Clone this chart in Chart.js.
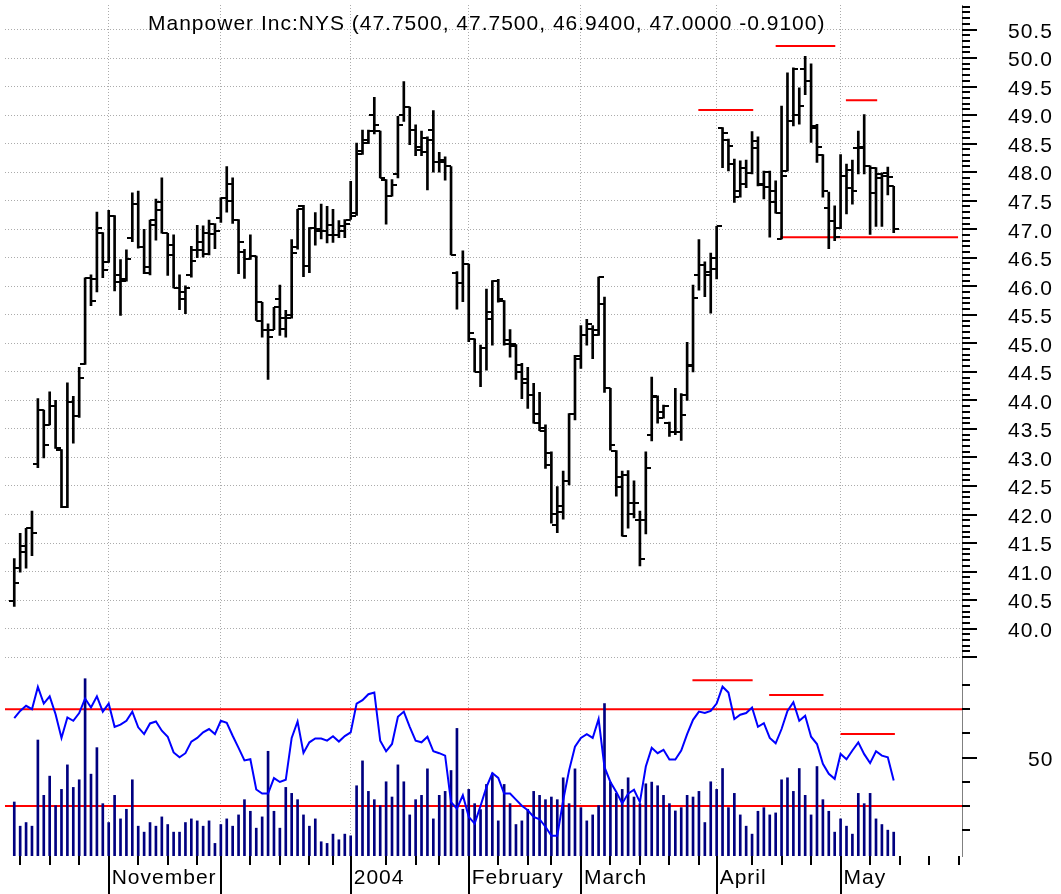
<!DOCTYPE html>
<html>
<head>
<meta charset="utf-8">
<title>Manpower Inc:NYS</title>
<script src="https://cdn.jsdelivr.net/npm/chart.js@4.4.1/dist/chart.umd.min.js"></script>
<style>
  html, body { margin: 0; padding: 0; background: #fff; }
</style>
</head>
<body>
<canvas id="chart" width="1061" height="894"></canvas>
<script>
// daily bars, 10 Oct 2003 .. 14 May 2004 (x = session index)
const name = "Manpower Inc:NYS";

const openP = [
  40.49, 41.07, 41.45, 41.76, 42.89, 43.83, 43.57, 43.90, 43.13, 42.13,
  43.98, 43.72, 44.63, 46.15, 46.13, 46.93, 46.43, 47.24, 46.20, 46.12,
  46.85, 47.44, 46.68, 46.23, 47.07, 47.47, 46.93, 46.54, 45.97, 45.90,
  46.19, 46.64, 46.78, 46.56, 46.91, 47.20, 47.54, 47.80, 47.17, 46.60,
  46.47, 46.53, 45.72, 45.24, 45.24, 45.77, 45.26, 45.50, 46.68, 47.40,
  46.36, 47.02, 47.00, 46.97, 47.07, 46.90, 47.06, 47.17, 47.29, 48.37,
  48.57, 49.00, 48.72, 47.87, 47.59, 47.96, 49.00, 49.14, 48.74, 48.38,
  48.60, 48.74, 48.17, 48.22, 48.10, 46.24, 46.05, 46.39, 45.08, 44.50,
  44.91, 45.43, 46.10, 45.75, 45.05, 44.98, 44.50, 44.38, 44.10, 43.77,
  43.51, 43.07, 41.81, 42.15, 42.58, 43.77, 44.72, 45.14, 45.26, 45.14,
  45.69, 44.21, 43.12, 42.65, 42.70, 42.20, 41.91, 41.91, 43.40, 44.06,
  43.80, 43.60, 43.44, 43.45, 44.10, 44.62, 46.20, 46.38, 46.20, 46.30,
  48.77, 48.56, 48.14, 47.67, 48.08, 47.98, 48.55, 47.78, 48.01, 47.67,
  46.83, 48.02, 48.90, 49.01, 49.80, 49.59, 48.81, 48.30, 47.38, 47.15,
  47.03, 47.94, 48.03, 48.43, 48.45, 48.11, 48.07, 47.97, 47.99, 47.75
];
const highP = [
  41.23, 41.67, 41.76, 42.06, 44.03, 43.83, 44.15, 44.00, 43.14, 44.31,
  44.07, 44.58, 46.15, 46.20, 47.30, 46.94, 47.33, 47.24, 46.47, 46.64,
  47.64, 47.67, 47.00, 47.16, 47.53, 47.90, 46.93, 46.90, 46.20, 46.01,
  46.70, 47.07, 47.06, 47.16, 47.10, 47.55, 48.10, 47.90, 47.17, 46.65,
  46.90, 46.53, 45.72, 45.34, 45.63, 46.02, 45.58, 46.82, 47.35, 47.42,
  47.03, 47.29, 47.44, 47.40, 47.35, 47.15, 47.17, 47.84, 48.51, 48.74,
  48.74, 49.31, 48.72, 47.87, 47.87, 48.98, 49.59, 49.14, 48.83, 48.72,
  48.62, 49.08, 48.35, 48.27, 48.10, 46.26, 46.62, 46.39, 45.08, 44.97,
  45.95, 46.10, 46.12, 45.75, 45.24, 44.98, 44.65, 44.58, 44.30, 44.14,
  43.57, 43.10, 42.49, 42.76, 43.77, 44.79, 45.31, 45.42, 45.31, 46.16,
  45.81, 44.21, 43.12, 42.76, 42.77, 42.59, 42.06, 43.10, 44.41, 44.08,
  43.92, 43.62, 44.21, 44.12, 45.02, 46.02, 46.82, 46.43, 46.58, 47.05,
  48.78, 48.58, 48.23, 48.20, 48.21, 48.71, 48.62, 48.02, 48.02, 47.85,
  49.16, 49.74, 49.83, 49.48, 50.03, 49.90, 48.84, 48.31, 47.65, 47.41,
  48.31, 48.14, 48.21, 48.72, 49.01, 48.11, 48.08, 47.99, 48.09, 47.75
];
const lowP = [
  40.39, 40.99, 41.06, 41.28, 42.82, 42.99, 43.57, 43.16, 42.12, 42.12,
  43.25, 43.70, 44.63, 45.66, 45.90, 46.15, 46.42, 45.92, 45.49, 46.09,
  46.78, 46.67, 46.22, 46.20, 46.81, 46.93, 46.19, 45.97, 45.59, 45.52,
  46.16, 46.50, 46.51, 46.55, 46.66, 47.12, 47.30, 47.10, 46.22, 46.14,
  46.47, 45.40, 45.11, 44.37, 45.24, 45.14, 45.11, 45.44, 46.65, 46.17,
  46.24, 46.72, 46.83, 46.76, 46.77, 46.85, 46.85, 47.17, 47.24, 48.31,
  48.50, 48.67, 47.90, 47.09, 47.58, 47.90, 48.89, 48.48, 48.29, 48.29,
  47.69, 48.00, 48.00, 47.86, 46.55, 45.60, 45.73, 45.03, 44.50, 44.24,
  44.53, 44.97, 45.72, 44.97, 44.76, 44.37, 44.03, 43.86, 43.60, 43.47,
  42.81, 41.85, 41.68, 41.92, 42.52, 43.66, 44.56, 44.97, 44.73, 45.14,
  44.14, 43.13, 42.32, 41.62, 41.76, 41.94, 41.10, 41.66, 43.29, 43.60,
  43.69, 43.37, 43.40, 43.30, 44.00, 44.50, 45.93, 45.82, 45.53, 46.13,
  48.08, 48.02, 47.47, 47.56, 47.73, 47.97, 47.76, 47.53, 46.86, 47.28,
  46.83, 48.02, 48.81, 48.84, 49.36, 48.52, 48.17, 47.56, 46.66, 46.80,
  47.01, 47.27, 47.44, 47.97, 47.97, 46.91, 47.05, 47.05, 47.60, 46.94
];
const closeP = [
  40.80, 41.35, 41.76, 41.67, 43.83, 43.22, 43.90, 43.17, 42.13, 43.98,
  43.72, 44.40, 46.15, 45.74, 47.03, 46.29, 47.24, 46.07, 46.10, 46.47,
  47.44, 46.68, 46.34, 47.16, 47.33, 46.93, 46.73, 45.97, 45.77, 45.97,
  46.44, 46.64, 46.93, 47.10, 46.97, 47.54, 47.50, 47.17, 46.77, 46.47,
  46.53, 45.40, 45.24, 45.11, 45.63, 45.44, 45.44, 46.59, 47.35, 46.36,
  47.02, 46.97, 46.97, 46.90, 46.90, 46.97, 47.10, 47.23, 48.31, 48.51,
  48.72, 48.83, 47.90, 47.59, 47.78, 48.83, 49.14, 48.74, 48.44, 48.35,
  48.57, 48.17, 48.17, 48.10, 46.55, 46.05, 46.39, 45.18, 44.50, 44.91,
  45.55, 46.10, 45.78, 44.98, 44.95, 44.62, 44.30, 44.10, 43.60, 43.47,
  42.86, 42.01, 42.05, 42.58, 43.77, 44.78, 45.14, 45.34, 45.24, 46.16,
  44.21, 43.22, 42.49, 41.62, 42.01, 42.20, 41.22, 42.81, 44.08, 43.70,
  43.91, 43.44, 43.45, 43.74, 44.61, 45.80, 46.38, 46.25, 46.50, 47.05,
  48.69, 48.46, 47.57, 47.80, 47.98, 48.42, 47.79, 47.74, 47.47, 47.28,
  47.94, 48.90, 49.80, 49.16, 49.59, 48.78, 48.44, 47.67, 47.15, 46.86,
  47.94, 47.73, 47.67, 48.42, 48.11, 47.63, 47.90, 47.94, 47.91, 47.00
];
// thousands of shares
const volume = [
  652, 360, 404, 360, 1400, 732, 964, 608, 804, 1100,
  828, 920, 2140, 988, 1308, 632, 404, 732, 448, 564,
  920, 360, 288, 404, 360, 472, 380, 288, 288, 404,
  448, 424, 360, 424, 152, 380, 448, 360, 496, 680,
  540, 336, 472, 1264, 540, 336, 828, 756, 680, 496,
  360, 448, 172, 152, 264, 196, 264, 244, 848, 1148,
  780, 680, 608, 896, 712, 1100, 896, 496, 680, 732,
  1052, 448, 732, 780, 1032, 1540, 564, 804, 632, 560,
  864, 1000, 424, 864, 632, 380, 424, 564, 780, 732,
  680, 712, 680, 944, 632, 1052, 584, 424, 496, 608,
  1840, 892, 756, 804, 944, 712, 632, 872, 892, 848,
  732, 632, 544, 584, 732, 712, 780, 404, 896, 804,
  1056, 584, 756, 496, 360, 264, 540, 584, 496, 520,
  920, 944, 780, 1056, 732, 496, 1080, 680, 540, 288,
  448, 360, 264, 756, 632, 756, 448, 380, 312, 288
];
const rsi = [
  66.3, 69.3, 71.4, 70.0, 79.2, 72.3, 75.3, 67.9, 58.1, 66.6,
  65.2, 68.4, 74.4, 70.7, 75.3, 69.0, 72.3, 62.7, 63.6, 65.2,
  69.0, 62.5, 59.7, 64.1, 64.9, 61.1, 58.6, 52.1, 50.1, 51.8,
  56.6, 58.1, 60.4, 61.8, 59.7, 65.2, 64.4, 59.0, 54.0, 48.8,
  49.3, 36.8, 35.1, 35.1, 41.5, 39.9, 40.8, 58.1, 64.9, 51.9,
  56.3, 57.9, 57.9, 57.0, 58.8, 56.6, 58.9, 60.4, 72.3, 73.7,
  76.2, 76.9, 57.0, 52.6, 55.6, 66.9, 69.0, 62.7, 57.0, 56.3,
  58.6, 52.6, 51.8, 50.8, 31.6, 28.9, 34.4, 25.5, 22.7, 30.0,
  37.8, 43.6, 41.6, 35.1, 35.1, 32.6, 30.1, 28.2, 25.5, 24.5,
  21.4, 17.7, 17.7, 32.3, 44.7, 54.5, 58.1, 59.7, 58.1, 65.9,
  46.0, 39.9, 35.8, 31.0, 35.1, 36.7, 31.6, 46.3, 54.0, 51.8,
  53.2, 49.2, 49.2, 52.9, 59.7, 65.6, 69.0, 68.4, 69.3, 72.3,
  79.3, 76.9, 65.9, 67.7, 68.4, 70.7, 62.7, 64.2, 58.1, 55.9,
  61.8, 69.3, 72.9, 65.2, 67.3, 58.6, 55.6, 47.4, 43.3, 41.2,
  51.5, 49.3, 52.9, 56.3, 51.4, 47.7, 52.6, 50.8, 50.1, 40.5
];

// first session of each week / month (session index), future sessions included
const weekTicks = [1, 6, 11, 21, 26, 31, 40, 45, 50, 54, 63, 68, 72, 82, 87, 91,
                   101, 106, 111, 116, 125, 130, 135, 145, 150, 155, 160];
const monthTicks = [16, 35, 57, 77, 96, 119, 140];
const monthLabels = ["November", "", "2004", "February", "March", "April", "May"];

const rsiBands = [70, 30];
// drawn levels: [from session, to session, value]
const priceLevels = [[115.9, 125.2, 49.09], [129.0, 139.1, 50.21], [140.9, 146.2, 49.26], [129.8, 159.9, 46.86]];
const rsiLevels = [[114.9, 125.1, 82.0], [127.9, 137.1, 75.9], [140.0, 149.2, 59.7]];

const X_MIN = -1.57, X_MAX = 160.57;
const GRID = "#ababab";
const FONT = { family: '"Liberation Sans", Arial, Helvetica, sans-serif', size: 21 };

const last = closeP.length - 1;
const f4 = v => v.toFixed(4);
const title = name + " (" + f4(openP[last]) + ", " + f4(highP[last]) + ", " + f4(lowP[last]) + ", " +
  f4(closeP[last]) + " " + f4(closeP[last] - closeP[last - 1]) + ")";

const isHalf = v => Math.abs(v * 2 - Math.round(v * 2)) < 1e-6;
const pts = arr => arr.map((v, i) => ({ x: i, y: v }));
const seg = s => [{ x: s[0], y: s[2] }, { x: s[1], y: s[2] }];

// open tick on the left, close tick on the right
function tickImage(side) {
  const c = document.createElement("canvas");
  c.width = 10; c.height = 2;
  const g = c.getContext("2d");
  g.fillStyle = "#000";
  g.fillRect(side < 0 ? 0 : 5, 0, 5, 2);
  return c;
}

const redLine = (data, axis, order) => ({
  type: "line", data: data, yAxisID: axis, borderColor: "#ff0000", borderWidth: 2,
  pointRadius: 0, tension: 0, order: order
});

// right axes: fixed width, no extra top/bottom room for the labels
const fitRight = s => {
  s.width = 99;
  s.paddingTop = 0;
  s.paddingBottom = 0;
};

const decor = {
  id: "decor",
  beforeDraw(chart) {
    chart.ctx.letterSpacing = "1px";
  },
  afterDraw(chart) {
    const { ctx, chartArea: a } = chart;
    const { x, y, yr } = chart.scales;
    ctx.save();
    ctx.strokeStyle = "#000";
    ctx.lineWidth = 2;
    ctx.beginPath();
    for (let k = 395; k <= 509; k++) {
      const py = Math.round(y.getPixelForValue(k / 10));
      ctx.moveTo(a.right, py);
      ctx.lineTo(a.right + (k % 5 ? 8 : 15), py);
    }
    for (let v = 20; v <= 80; v += 10) {
      const py = Math.round(yr.getPixelForValue(v));
      ctx.moveTo(a.right, py);
      ctx.lineTo(a.right + (v === 50 ? 15 : 8), py);
    }
    weekTicks.forEach(v => {
      const px = Math.round(x.getPixelForValue(v));
      ctx.moveTo(px, a.bottom);
      ctx.lineTo(px, a.bottom + 9);
    });
    monthTicks.forEach(v => {
      const px = Math.round(x.getPixelForValue(v));
      ctx.moveTo(px, a.bottom);
      ctx.lineTo(px, chart.height);
    });
    ctx.stroke();

    ctx.fillStyle = "#000";
    ctx.font = FONT.size + "px " + FONT.family;
    ctx.textAlign = "left";
    ctx.textBaseline = "alphabetic";
    ctx.fillText(title, 148, 29.5);
    ctx.restore();
  }
};

new Chart(document.getElementById("chart"), {
  type: "bar",
  data: {
    datasets: [
      {
        type: "bar", label: "High-Low",
        data: lowP.map((l, i) => ({ x: i, y: [l, highP[i]] })),
        yAxisID: "y", backgroundColor: "#000", barThickness: 2, grouped: false, order: 1
      },
      {
        type: "line", label: "Open", data: pts(openP), yAxisID: "y",
        showLine: false, pointStyle: tickImage(-1), pointRadius: 1, order: 0
      },
      {
        type: "line", label: "Close", data: pts(closeP), yAxisID: "y",
        showLine: false, pointStyle: tickImage(1), pointRadius: 1, order: 0
      },
      {
        type: "bar", label: "Volume", data: pts(volume), yAxisID: "yv",
        backgroundColor: "#000080", barThickness: 2, grouped: false, order: 5
      },
      {
        type: "line", label: "RSI", data: pts(rsi), yAxisID: "yr",
        borderColor: "#0000ff", borderWidth: 2, pointRadius: 0, tension: 0, order: 3
      },
      ...rsiBands.map(v => redLine([{ x: X_MIN, y: v }, { x: X_MAX, y: v }], "yr", 6)),
      ...priceLevels.map(s => redLine(seg(s), "y", 2)),
      ...rsiLevels.map(s => redLine(seg(s), "yr", 2))
    ]
  },
  options: {
    responsive: false,
    animation: false,
    events: [],
    layout: { padding: 0 },
    plugins: { legend: { display: false }, tooltip: { enabled: false } },
    scales: {
      x: {
        type: "linear", min: X_MIN, max: X_MAX, offset: false,
        afterBuildTicks: s => {
          s.ticks = weekTicks.concat(monthTicks).sort((a, b) => a - b).map(v => ({ value: v }));
        },
        afterFit: s => { s.height = 38; s.paddingLeft = 0; s.paddingRight = 0; },
        grid: {
          offset: false, drawTicks: false, lineWidth: 1,
          color: c => (c.tick && monthTicks.includes(c.tick.value)) ? GRID : "rgba(0,0,0,0)"
        },
        border: { display: false, dash: [1, 2] },
        ticks: {
          autoSkip: false, maxRotation: 0, minRotation: 0, align: "start",
          labelOffset: 3, padding: 10, color: "#000", font: FONT,
          callback: v => {
            const k = monthTicks.indexOf(v);
            return k >= 0 ? monthLabels[k] : "";
          }
        }
      },
      y: {
        type: "linear", position: "right", stack: "panels", stackWeight: 656,
        min: 39.5, max: 50.93,
        afterFit: fitRight,
        grid: {
          drawTicks: false, lineWidth: 1,
          color: c => (c.tick && isHalf(c.tick.value)) ? GRID : "rgba(0,0,0,0)"
        },
        border: { color: "#808080", width: 1, dash: [1, 2] },
        ticks: {
          stepSize: 0.1, autoSkip: false, includeBounds: false, padding: 46,
          labelOffset: 2.5, color: "#000", font: FONT,
          callback: v => (isHalf(v) && v > 39.9) ? v.toFixed(1) : ""
        }
      },
      yr: {
        type: "linear", position: "right", stack: "panels", stackWeight: 200,
        min: 9.3, max: 91.5,
        afterFit: fitRight,
        grid: { display: false, drawTicks: false },
        border: { color: "#808080", width: 1 },
        ticks: {
          stepSize: 10, autoSkip: false, includeBounds: false, padding: 66,
          labelOffset: 2.5, color: "#000", font: FONT,
          callback: v => (Math.abs(v - 50) < 1e-6 ? "50" : "")
        }
      },
      yv: {
        type: "linear", position: "left", display: false, min: 0, max: 10272
      }
    }
  },
  plugins: [decor]
});
</script>
</body>
</html>
